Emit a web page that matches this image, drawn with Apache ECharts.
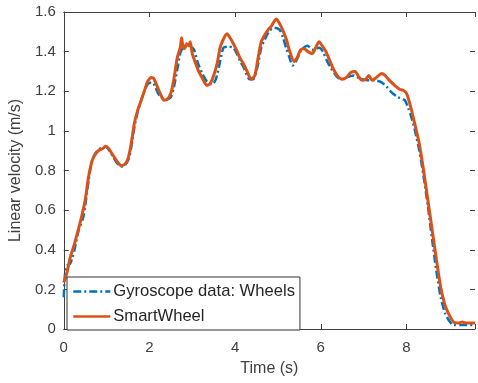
<!DOCTYPE html>
<html>
<head>
<meta charset="utf-8">
<script src="https://cdn.jsdelivr.net/npm/echarts@6/dist/echarts.min.js"></script>
<style>html,body{margin:0;padding:0;background:#fff}#c{width:478px;height:383px}</style>
</head>
<body>
<div id="c"></div>
<script>
const seriesNames = ['Gyroscope data: Wheels', 'SmartWheel'];
const xTicks = [0, 2, 4, 6, 8];
const yTicks = [0, 0.2, 0.4, 0.6, 0.8, 1, 1.2, 1.4, 1.6];

const gyroTime = [0,0.03,0.08,0.15,0.2,0.25,0.35,0.45,0.5,0.58,0.65,0.72,0.81,0.9,0.98,1.05,1.15,1.25,1.34,1.42,1.5,1.57,1.65,1.72,1.8,1.88,1.96,2.05,2.12,2.2,2.27,2.35,2.42,2.5,2.57,2.65,2.73,2.8,2.88,2.96,3.04,3.12,3.23,3.34,3.46,3.55,3.65,3.73,3.85,3.96,4.04,4.11,4.2,4.34,4.42,4.53,4.61,4.69,4.8,4.92,5.04,5.12,5.19,5.27,5.34,5.42,5.55,5.69,5.8,5.96,6.05,6.15,6.23,6.35,6.46,6.6,6.77,6.9,7.11,7.25,7.42,7.55,7.65,7.8,7.96,8.05,8.1,8.2,8.3,8.4,8.5,8.6,8.7,8.8,8.9,9.0,9.1,9.3,9.6];
const gyroVel = [0.16,0.28,0.32,0.33,0.36,0.40,0.50,0.56,0.62,0.75,0.84,0.88,0.905,0.915,0.92,0.905,0.87,0.835,0.82,0.825,0.85,0.91,1.02,1.09,1.15,1.20,1.235,1.245,1.23,1.19,1.17,1.16,1.16,1.17,1.22,1.31,1.40,1.42,1.43,1.425,1.41,1.35,1.29,1.25,1.235,1.26,1.35,1.42,1.425,1.42,1.39,1.355,1.32,1.26,1.26,1.33,1.42,1.46,1.505,1.52,1.51,1.47,1.42,1.37,1.33,1.35,1.41,1.43,1.41,1.42,1.40,1.35,1.32,1.28,1.26,1.27,1.28,1.265,1.255,1.255,1.245,1.22,1.195,1.17,1.155,1.11,1.08,1.0,0.90,0.77,0.62,0.45,0.29,0.16,0.08,0.04,0.02,0.02,0.02];

const smartTime = [0,0.08,0.15,0.25,0.35,0.42,0.5,0.58,0.65,0.7,0.81,0.9,0.98,1.05,1.15,1.25,1.34,1.42,1.5,1.57,1.65,1.72,1.8,1.88,1.96,2.05,2.1,2.19,2.27,2.34,2.42,2.5,2.57,2.65,2.72,2.75,2.78,2.82,2.87,2.92,2.95,3.0,3.08,3.15,3.25,3.34,3.42,3.5,3.58,3.65,3.72,3.81,3.88,3.96,4.04,4.11,4.19,4.28,4.38,4.46,4.53,4.61,4.68,4.77,4.85,4.96,5.03,5.11,5.2,5.27,5.38,5.45,5.53,5.61,5.7,5.8,5.88,5.96,6.03,6.11,6.2,6.3,6.4,6.5,6.6,6.7,6.8,6.88,6.96,7.05,7.12,7.2,7.3,7.42,7.5,7.58,7.65,7.75,7.84,7.92,8.0,8.1,8.2,8.3,8.4,8.5,8.6,8.7,8.8,8.9,9.0,9.1,9.2,9.3,9.4,9.5,9.6];
const smartVel = [0.235,0.29,0.36,0.43,0.51,0.57,0.65,0.77,0.84,0.87,0.90,0.91,0.922,0.91,0.877,0.845,0.825,0.83,0.86,0.93,1.04,1.10,1.15,1.20,1.25,1.27,1.265,1.22,1.18,1.155,1.16,1.19,1.26,1.37,1.42,1.47,1.43,1.415,1.44,1.43,1.45,1.39,1.34,1.30,1.26,1.23,1.24,1.28,1.34,1.42,1.46,1.49,1.47,1.44,1.405,1.37,1.34,1.30,1.26,1.28,1.36,1.45,1.48,1.51,1.53,1.565,1.545,1.51,1.46,1.405,1.35,1.37,1.41,1.415,1.40,1.39,1.42,1.45,1.43,1.405,1.36,1.31,1.275,1.26,1.27,1.295,1.30,1.275,1.255,1.26,1.28,1.255,1.27,1.29,1.28,1.26,1.245,1.225,1.21,1.205,1.19,1.12,1.03,0.935,0.80,0.65,0.50,0.35,0.21,0.12,0.07,0.035,0.03,0.035,0.03,0.03,0.03];

const pairs = (xs, ys) => xs.map((x, i) => [x, ys[i]]);
const FONT = 'Liberation Sans, Arial, sans-serif';
const AX = '#404040';
const TXT = '#404040';

const chart = echarts.init(document.getElementById('c'), null, {renderer: 'canvas'});
const baseX = {
  type: 'value', min: 0, max: 9.6, interval: 2,
  axisLine: {show: true, onZero: false, lineStyle: {color: AX, width: 1}},
  axisTick: {show: true, inside: true, length: 5, lineStyle: {color: AX}},
  splitLine: {show: false},
};
const baseY = {
  type: 'value', min: 0, max: 1.6, interval: 0.2,
  axisLine: {show: true, onZero: false, lineStyle: {color: AX, width: 1}},
  axisTick: {show: true, inside: true, length: 5, lineStyle: {color: AX}},
  splitLine: {show: false},
};
chart.setOption({
  animation: false,
  backgroundColor: '#fff',
  textStyle: {fontFamily: FONT},
  grid: {left: 62, top: 12, width: 416, height: 317, containLabel: false},
  legend: {
    orient: 'vertical', left: 67, top: 277,
    data: seriesNames,
    itemWidth: 37, itemHeight: 14, itemGap: 8,
    padding: [6, 5, 5, 5],
    itemStyle: {opacity: 0},
    lineStyle: {width: 2.5},
    backgroundColor: '#fff', borderColor: '#333', borderWidth: 1,
    textStyle: {fontFamily: FONT, fontSize: 16.6, color: '#262626', padding: [0, 0, 0, -2]},
  },
  xAxis: [
    Object.assign({}, baseX, {
      position: 'bottom', name: 'Time (s)', nameLocation: 'middle', nameGap: 32,
      nameTextStyle: {fontFamily: FONT, fontSize: 16, color: TXT},
      axisLabel: {show: true, margin: 11, fontSize: 15, color: TXT, fontFamily: FONT,
        formatter: v => xTicks.indexOf(v) >= 0 ? String(v) : ''}
    }),
    Object.assign({}, baseX, {position: 'top', axisLabel: {show: false}})
  ],
  yAxis: [
    Object.assign({}, baseY, {
      position: 'left', name: 'Linear velocity (m/s)', nameLocation: 'middle', nameGap: 35,
      nameTextStyle: {fontFamily: FONT, fontSize: 16, color: TXT},
      axisLabel: {show: true, margin: 8, fontSize: 15, color: TXT, fontFamily: FONT,
        formatter: v => { const t = yTicks.find(y => Math.abs(y - v) < 1e-9); return t === undefined ? '' : String(t); }}
    }),
    Object.assign({}, baseY, {position: 'right', axisLine: {show: false, onZero: false}, axisLabel: {show: false}})
  ],
  series: [
    {
      name: seriesNames[0], type: 'line', data: pairs(gyroTime, gyroVel),
      xAxisIndex: 0, yAxisIndex: 0, symbol: 'none', smooth: 0.25,
      lineStyle: {color: '#0072BD', width: 2.5, type: [8, 3, 2, 3]},
      itemStyle: {color: '#0072BD'}, z: 2
    },
    {
      name: seriesNames[1], type: 'line', data: pairs(smartTime, smartVel),
      xAxisIndex: 0, yAxisIndex: 0, symbol: 'none', smooth: 0.25,
      lineStyle: {color: '#D95319', width: 3},
      itemStyle: {color: '#D95319'}, z: 3
    }
  ]
});
</script>
</body>
</html>
